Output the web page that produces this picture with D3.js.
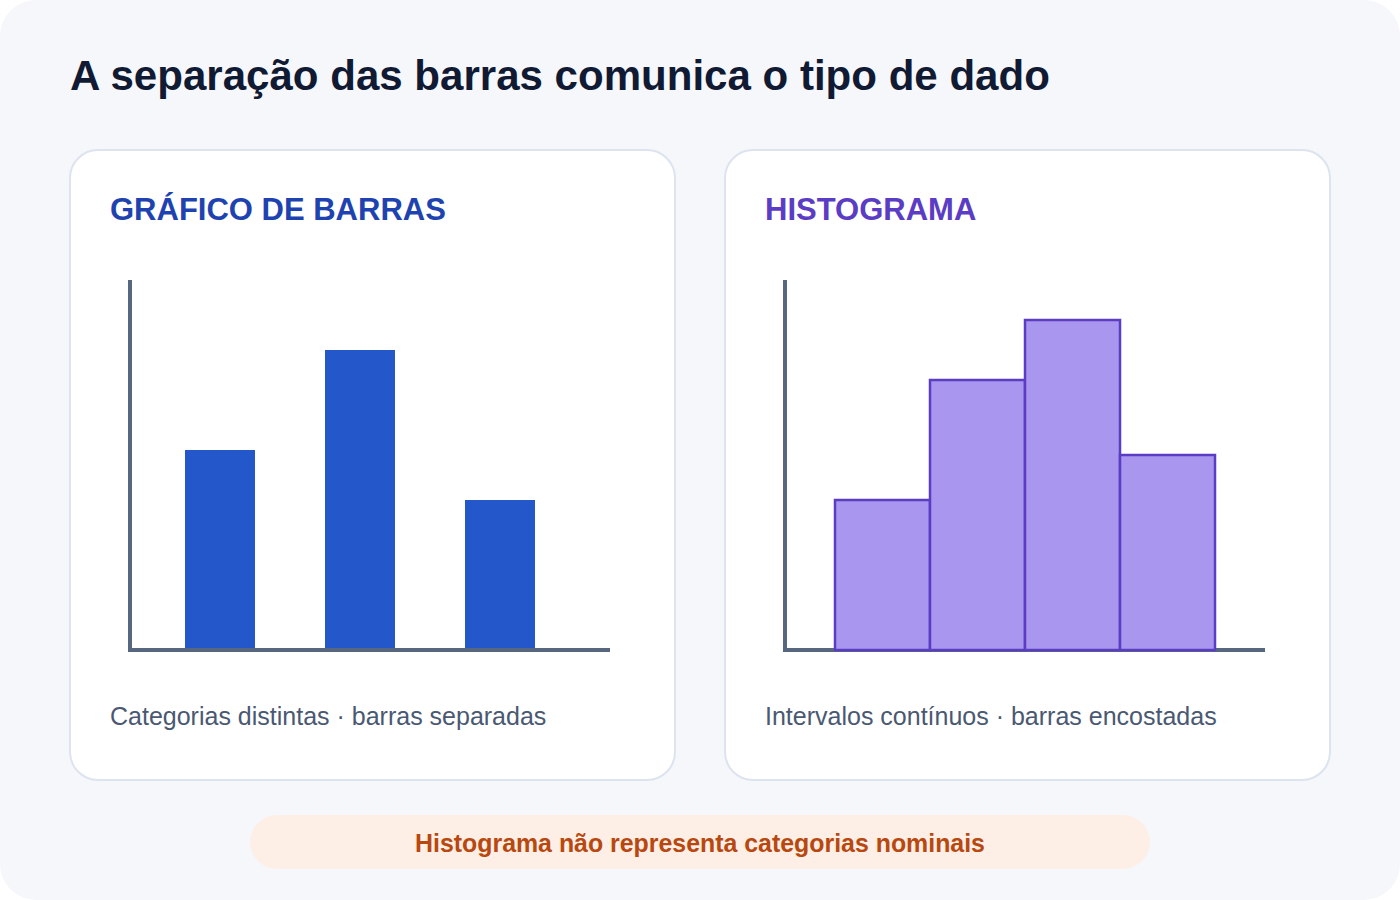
<!DOCTYPE html>
<html>
<head>
<meta charset="utf-8">
<script src="https://cdn.jsdelivr.net/npm/d3@7"></script>
<style>
  html, body { margin: 0; padding: 0; background: #ffffff; }
  svg { display: block; font-family: "Liberation Sans", Arial, Helvetica, sans-serif; }
</style>
</head>
<body>
<svg id="chart" width="1400" height="900"></svg>
<script>
// ---- data ----
const title = "A separação das barras comunica o tipo de dado";
const barTitle = "GRÁFICO DE BARRAS";
const histTitle = "HISTOGRAMA";
const barCaption = "Categorias distintas · barras separadas";
const histCaption = "Intervalos contínuos · barras encostadas";
const note = "Histograma não representa categorias nominais";

const barCategories = ["A", "B", "C"];
const barValues = [4, 6, 3];

const histBinEdges = [0, 10, 20, 30, 40];
const histCounts = [5, 9, 11, 6.5];

// ---- drawing ----
const svg = d3.select("#chart");

svg.append("rect")
  .attr("x", 0).attr("y", 0).attr("width", 1400).attr("height", 900)
  .attr("rx", 36).attr("fill", "#f5f7fb");

svg.append("text")
  .attr("x", 70).attr("y", 90)
  .attr("font-size", 42.05).attr("font-weight", 700)
  .attr("fill", "#111a33")
  .text(title);

function card(x0, heading, headColor, caption) {
  const g = svg.append("g").attr("transform", `translate(${x0},0)`);
  g.append("rect")
    .attr("x", 70).attr("y", 150).attr("width", 605).attr("height", 630)
    .attr("rx", 28).attr("fill", "#ffffff")
    .attr("stroke", "#dde3ef").attr("stroke-width", 2);
  g.append("text")
    .attr("x", 110).attr("y", 220)
    .attr("font-size", 31).attr("font-weight", 700)
    .attr("fill", headColor).text(heading);
  g.append("text")
    .attr("x", 110).attr("y", 725)
    .attr("font-size", 25)
    .attr("fill", "#4a5872").text(caption);
  return g;
}

const axisColor = "#586780";

// Left: bar chart
const gL = card(0, barTitle, "#1e43b0", barCaption);
const xBand = d3.scaleBand().domain(barCategories).range([150, 570])
  .paddingInner(0.5).paddingOuter(0.25);
const yL = d3.scaleLinear().domain([0, 7.4]).range([650, 280]);

gL.selectAll("rect.bar").data(barValues).join("rect")
  .attr("class", "bar")
  .attr("x", (d, i) => xBand(barCategories[i]))
  .attr("y", d => yL(d))
  .attr("width", xBand.bandwidth())
  .attr("height", d => yL(0) - yL(d))
  .attr("fill", "#2457c9");

gL.append("line").attr("x1", 130).attr("x2", 130).attr("y1", yL.range()[1]).attr("y2", 652)
  .attr("stroke", axisColor).attr("stroke-width", 4);
gL.append("line").attr("x1", 128).attr("x2", 610).attr("y1", 650).attr("y2", 650)
  .attr("stroke", axisColor).attr("stroke-width", 4);

// Right: histogram
const gR = card(655, histTitle, "#5b3cc4", histCaption);
const xLin = d3.scaleLinear().domain([0, 40]).range([180, 560]);
const yR = d3.scaleLinear().domain([0, 370 / 30]).range([650, 280]);
const bins = histCounts.map((c, i) => ({ x0: histBinEdges[i], x1: histBinEdges[i + 1], c }));

gR.append("line").attr("x1", 130).attr("x2", 130).attr("y1", yR.range()[1]).attr("y2", 652)
  .attr("stroke", axisColor).attr("stroke-width", 4);
gR.append("line").attr("x1", 128).attr("x2", 610).attr("y1", 650).attr("y2", 650)
  .attr("stroke", axisColor).attr("stroke-width", 4);

gR.selectAll("rect.bin").data(bins).join("rect")
  .attr("class", "bin")
  .attr("x", d => xLin(d.x0))
  .attr("y", d => yR(d.c))
  .attr("width", d => xLin(d.x1) - xLin(d.x0))
  .attr("height", d => yR(0) - yR(d.c))
  .attr("fill", "#a996ee")
  .attr("stroke", "#5b3cc4").attr("stroke-width", 2.5);

// Note pill
svg.append("rect")
  .attr("x", 250).attr("y", 815).attr("width", 900).attr("height", 54)
  .attr("rx", 27).attr("fill", "#fdefe6");
svg.append("text")
  .attr("x", 700).attr("y", 852).attr("text-anchor", "middle")
  .attr("font-size", 24.9).attr("font-weight", 700)
  .attr("fill", "#b8480f").text(note);
</script>
</body>
</html>
